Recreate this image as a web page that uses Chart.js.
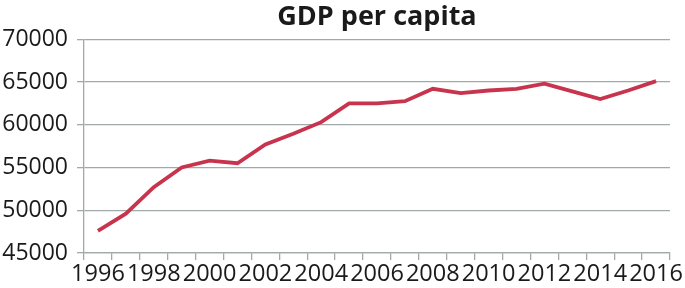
<!DOCTYPE html>
<html>
<head>
<meta charset="utf-8">
<script src="https://cdn.jsdelivr.net/npm/chart.js@4/dist/chart.umd.min.js"></script>
<style>
html,body{margin:0;padding:0;background:#fff;}
#wrap{width:685px;height:288px;position:relative;}
</style>
</head>
<body>
<div id="wrap"><canvas id="c" width="685" height="288"></canvas></div>
<script>
const years = ['1996','1997','1998','1999','2000','2001','2002','2003','2004','2005','2006','2007','2008','2009','2010','2011','2012','2013','2014','2015','2016'];
const gdpPerCapita = [47600,49600,52700,55000,55800,55500,57700,58950,60300,62500,62500,62750,64200,63700,64000,64200,64800,63900,63000,64000,65100];
const yTicks = [45000,50000,55000,60000,65000,70000];
const titleText = 'GDP per capita';

const gridColor = '#A3A9A9';
const textColor = '#1a1a1a';

new Chart(document.getElementById('c'), {
  type: 'line',
  data: {
    labels: years,
    datasets: [{
      label: titleText,
      data: gdpPerCapita,
      borderColor: '#C8344E',
      borderWidth: 3.8,
      pointRadius: 0,
      tension: 0,
      fill: false
    }]
  },
  options: {
    responsive: false,
    animation: false,
    layout: { padding: { left: 0, right: 15, top: 0, bottom: 0 } },
    plugins: {
      legend: { display: false },
      tooltip: { enabled: false },
      title: {
        display: true,
        fullSize: false,
        text: titleText,
        color: textColor,
        font: { family: 'Open Sans', size: 27, weight: 'bold', lineHeight: 1.2 },
        padding: { top: 1, bottom: 5.8 }
      }
    },
    scales: {
      x: {
        type: 'category',
        offset: true,
        grid: {
          offset: true,
          drawOnChartArea: false,
          drawTicks: true,
          tickLength: 7,
          color: gridColor,
          lineWidth: 1.3
        },
        border: { display: true, color: gridColor, width: 1.3 },
        ticks: {
          autoSkip: false,
          maxRotation: 0,
          minRotation: 0,
          padding: 0,
          color: textColor,
          font: { family: 'Open Sans', size: 23.5 },
          callback: function(v, i) { const y = years[i]; return (parseInt(y) % 2 === 0) ? y : ''; }
        },
        afterFit: function(s) { s.height = 35; }
      },
      y: {
        min: yTicks[0],
        max: yTicks[yTicks.length - 1],
        afterBuildTicks: function(s) { s.ticks = yTicks.map(v => ({ value: v })); },
        grid: {
          color: gridColor,
          lineWidth: 1.3,
          drawTicks: true,
          tickLength: 7
        },
        border: { display: true, color: gridColor, width: 1.3 },
        ticks: {
          padding: 9,
          color: textColor,
          font: { family: 'Open Sans', size: 23 },
          callback: function(v) { return String(v); }
        },
        afterFit: function(s) { s.width = 84; }
      }
    }
  }
});
</script>
</body>
</html>
